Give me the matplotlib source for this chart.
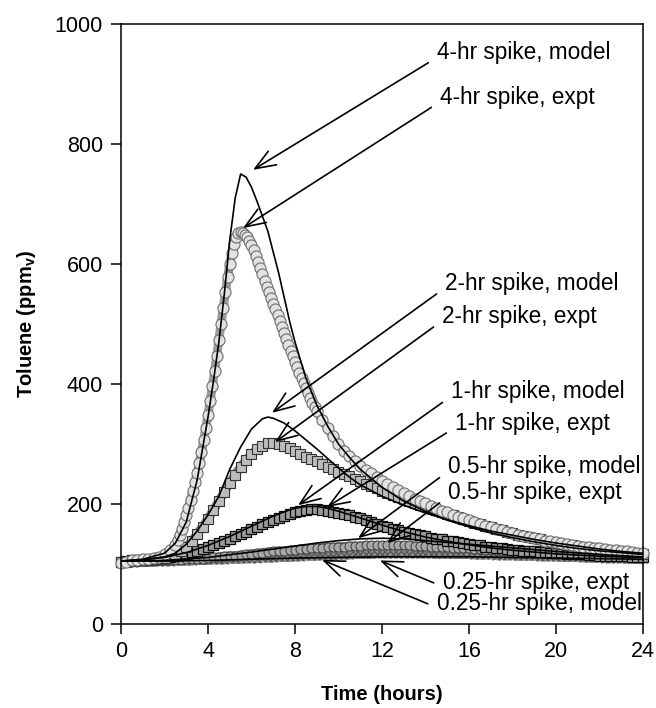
import numpy as np
import matplotlib
matplotlib.use("Agg")
import matplotlib.pyplot as plt

plt.rcParams["font.family"] = ["Liberation Sans", "DejaVu Sans"]
plt.rcParams["mathtext.fontset"] = "custom"
plt.rcParams["mathtext.rm"] = "Liberation Sans"
plt.rcParams["mathtext.bf"] = "Liberation Sans:bold"

# ---- experimental toluene readings (ppmv) ----
t_q = np.linspace(0, 24, 97)  # quarter-hour sampling

t_4hr_expt = np.concatenate([np.linspace(0, 2.25, 10), np.linspace(2.5, 8.9, 65),
                             np.linspace(9, 24, 61)])
v_4hr_expt = [102, 104, 106, 107, 108, 109, 110, 112, 116, 123,
              # 2.5 - 8.9 h, every 0.1 h
              132, 140, 149, 159, 170, 182, 194, 207, 221, 236,
              252, 269, 287, 306, 327, 349, 372, 396, 421, 447,
              474, 500, 527, 553, 578, 600, 619, 634, 645, 651,
              653, 652, 649, 645, 639, 632, 623, 613, 603, 593,
              583, 572, 562, 553, 544, 534, 525, 515, 505, 495,
              485, 475, 465, 455, 446, 437, 428, 419, 410, 401,
              393, 385, 377, 369, 362,
              # 9 - 24 h, every 0.25 h
              355, 340, 326, 313, 300, 289, 280, 272, 264, 257, 251,
              245, 239, 233, 228, 223, 218, 214, 209, 205, 201, 197,
              193, 189, 186, 182, 179, 176, 173, 170, 167, 164, 161,
              158, 156, 154, 151, 149, 147, 145, 143, 141, 139, 138,
              136, 135, 133, 132, 130, 129, 128, 127, 126, 125, 124,
              123, 122, 121, 120, 119, 118]

v_2hr_expt = [103, 104, 105, 106, 107, 107, 108, 109, 110, 113, 116, 121, 128,
              138, 150, 162, 175, 190, 205, 220, 235, 249, 262, 273, 283,
              291, 297, 301, 302, 300, 297, 293, 289, 284, 279, 275, 271,
              267, 262, 258, 254, 250, 246, 242, 238, 234, 230, 226, 222,
              219, 215, 211, 208, 205, 202, 199, 196, 193, 190, 187, 184,
              181, 178, 175, 172, 169, 166, 164, 161, 158, 156, 154, 151,
              149, 147, 145, 143, 141, 139, 137, 135, 134, 132, 131, 129,
              128, 127, 126, 125, 124, 123, 122, 121, 120, 119, 118, 117]

v_1hr_expt = [104, 105, 106, 106, 107, 107, 108, 109, 110, 111, 113, 115, 117,
              120, 122, 125, 128, 131, 135, 138, 142, 146, 150, 154, 158,
              162, 166, 170, 173, 177, 180, 183, 186, 188, 190, 191, 191,
              190, 189, 187, 185, 183, 181, 179, 176, 173, 170, 167, 164,
              161, 158, 156, 154, 152, 150, 148, 146, 144, 142, 141, 139,
              138, 136, 135, 133, 132, 131, 129, 128, 127, 126, 125, 124,
              123, 122, 122, 121, 120, 120, 119, 118, 118, 117, 117, 116,
              116, 115, 115, 114, 114, 114, 113, 113, 113, 112, 112, 112]

v_05hr_expt = [103, 103, 104, 104, 105, 105, 105, 106, 106, 106, 107, 107, 108,
               108, 109, 109, 110, 111, 112, 113, 114, 114, 115, 116, 117,
               118, 119, 120, 121, 122, 122, 123, 124, 125, 125, 126, 127,
               127, 128, 128, 129, 129, 130, 130, 130, 131, 131, 131, 131,
               131, 131, 131, 131, 131, 130, 130, 130, 129, 129, 128, 128,
               127, 127, 126, 126, 125, 125, 124, 123, 123, 122, 122, 121,
               121, 120, 120, 119, 119, 118, 118, 117, 117, 116, 116, 115,
               115, 114, 114, 113, 113, 112, 112, 111, 111, 111, 110, 110]

v_025hr_expt = [102, 102, 103, 103, 103, 103, 104, 104, 104, 104, 105, 105, 105,
                105, 106, 106, 106, 107, 107, 107, 108, 108, 108, 109, 109,
                109, 110, 110, 110, 111, 111, 111, 112, 112, 113, 113, 113,
                114, 114, 114, 115, 115, 115, 116, 116, 116, 116, 117, 117,
                117, 117, 117, 117, 117, 117, 117, 117, 117, 116, 116, 116,
                116, 116, 116, 116, 115, 115, 115, 115, 114, 114, 114, 114,
                113, 113, 113, 113, 112, 112, 112, 112, 111, 111, 111, 111,
                110, 110, 110, 110, 109, 109, 109, 109, 108, 108, 108, 108]

# ---- model predictions (ppmv) ----
t_4hr_model = [0, 1, 2, 2.5, 3, 3.5, 4, 4.25, 4.5, 4.75, 5, 5.25, 5.5, 5.75, 6,
               6.25, 6.5, 6.75, 7, 7.25, 7.5, 7.75, 8, 8.25, 8.5, 9, 9.5, 10,
               10.5, 11, 12, 13, 14, 15, 16, 17, 18, 19, 20, 21, 22, 23, 24]
v_4hr_model = [105, 108, 118, 135, 170, 240, 345, 405, 470, 550, 640, 710, 750,
               745, 728, 705, 680, 655, 620, 585, 545, 505, 470, 440, 410, 365,
               330, 300, 278, 258, 228, 205, 188, 173, 162, 152, 144, 137, 131,
               126, 122, 119, 116]

t_2hr_model = [0, 1, 2, 2.5, 3, 3.5, 4, 4.5, 5, 5.5, 6, 6.5, 6.75, 7, 7.5, 8,
               8.5, 9, 9.5, 10, 10.5, 11, 12, 13, 14, 15, 16, 17, 18, 19, 20,
               21, 22, 23, 24]
v_2hr_model = [105, 107, 112, 118, 133, 155, 182, 213, 258, 295, 325, 342, 345,
               343, 335, 322, 307, 292, 276, 260, 245, 232, 213, 198, 185, 174,
               164, 155, 148, 141, 135, 130, 125, 121, 118]

t_1hr_model = [0, 1, 2, 3, 4, 5, 6, 7, 7.5, 8, 8.5, 9, 9.5, 10, 11, 12, 13, 14,
               15, 16, 17, 18, 19, 20, 21, 22, 23, 24]
v_1hr_model = [105, 107, 111, 119, 131, 146, 163, 180, 187, 193, 196, 196, 193,
               188, 177, 165, 154, 145, 138, 132, 127, 123, 120, 117, 115, 113,
               112, 111]

t_05hr_model = [0, 2, 4, 6, 8, 9, 10, 11, 12, 13, 14, 15, 16, 18, 20, 22, 24]
v_05hr_model = [105, 106, 111, 120, 130, 135, 139, 142, 143, 142, 139, 136, 133,
                127, 121, 116, 112]

t_025hr_model = [0, 2, 4, 6, 8, 10, 12, 14, 16, 18, 20, 22, 24]
v_025hr_model = [105, 105, 106, 108, 110, 111, 112, 112, 112, 111, 110, 109, 108]

# label, arrow tip (t, ppmv), text anchor (t, ppmv)
labels = ["4-hr spike, model", "4-hr spike, expt",
          "2-hr spike, model", "2-hr spike, expt",
          "1-hr spike, model", "1-hr spike, expt",
          "0.5-hr spike, model", "0.5-hr spike, expt",
          "0.25-hr spike, expt", "0.25-hr spike, model"]
tips = [(6.07, 757), (5.61, 660), (6.94, 352), (7.08, 303), (8.14, 198),
        (9.47, 195), (10.9, 143), (12.23, 135), (11.9, 106), (9.24, 107)]
text_pos = [(14.53, 952), (14.67, 878), (14.9, 568), (14.76, 513), (15.17, 387),
            (15.36, 335), (15.03, 262), (15.03, 220), (14.8, 70), (14.53, 35)]

fig = plt.figure(figsize=(6.56, 7.08), dpi=100)
ax = fig.add_axes([0.1845, 0.1186, 0.7955, 0.8474])

# experimental series: a solid band under densely packed markers
expt = [
    (t_q, v_025hr_expt, "#8c8c8c", dict(marker="x", ms=6, mew=0.8, color="#505050")),
    (t_q, v_05hr_expt, "#7a7a7a", dict(marker="o", ms=6.5, mew=0.7, mfc="#a8a8a8", mec="#3c3c3c")),
    (t_q, v_1hr_expt, "#3a3a3a", dict(marker="s", ms=7, mew=0.9, mfc="#9a9a9a", mec="#0a0a0a")),
    (t_q, v_2hr_expt, "#7a7a7a", dict(marker="s", ms=7.5, mew=0.8, mfc="#bdbdbd", mec="#333333")),
    (t_4hr_expt, v_4hr_expt, "#9c9c9c", dict(marker="o", ms=8, mew=0.8, mfc="#e2e2e2", mec="#6e6e6e")),
]
for t, v, band, style in expt:
    ax.plot(t, v, color=band, lw=6.5, solid_capstyle="round", clip_on=False)
    ax.plot(t, v, linestyle="none", clip_on=False, **style)

for t, v in [(t_4hr_model, v_4hr_model), (t_2hr_model, v_2hr_model),
             (t_1hr_model, v_1hr_model), (t_05hr_model, v_05hr_model),
             (t_025hr_model, v_025hr_model)]:
    ax.plot(t, v, color="black", lw=1.2)

for text, tip, pos in zip(labels, tips, text_pos):
    ax.annotate(text, xy=tip, xytext=pos, ha="left", va="center", fontsize=16.3,
                arrowprops=dict(arrowstyle="->,head_length=0.9,head_width=0.35",
                                color="black", lw=1.2, shrinkA=5, shrinkB=0,
                                relpos=(0, 0.3)))

ax.set_xlim(0, 24)
ax.set_ylim(0, 1000)
ax.set_xticks(np.arange(0, 25, 4))
ax.set_yticks(np.arange(0, 1001, 200))
ax.tick_params(axis="both", direction="out", length=7, width=1.1, labelsize=15.5)
ax.tick_params(axis="y", pad=6)
ax.tick_params(axis="x", pad=5)
for s in ax.spines.values():
    s.set_linewidth(1.1)
ax.set_xlabel("Time (hours)", fontsize=14.5, fontweight="bold", labelpad=17)
ax.set_ylabel(r"Toluene (ppm$_\mathbf{v}$)", fontsize=14.5, fontweight="bold", labelpad=12)

fig.savefig("out.png", dpi=100)
